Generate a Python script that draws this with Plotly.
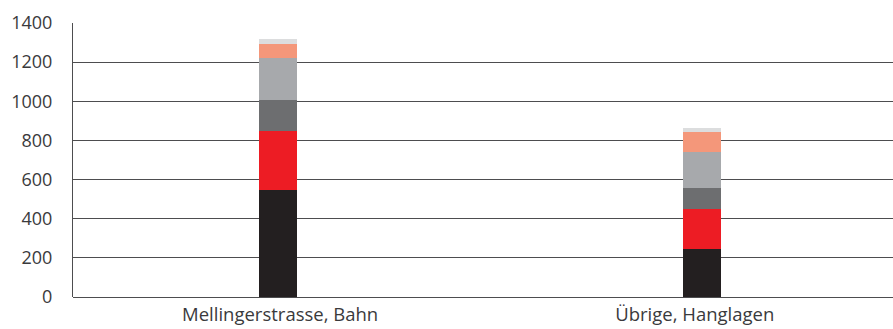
import plotly.graph_objects as go

categories = ["Mellingerstrasse, Bahn", "Übrige, Hanglagen"]
series_names = ["S1", "S2", "S3", "S4", "S5", "S6"]
s1 = [547, 245]
s2 = [301, 205]
s3 = [159, 107]
s4 = [214, 184]
s5 = [72, 102]
s6 = [25, 21]
series_values = [s1, s2, s3, s4, s5, s6]
colors = ["#231f20", "#ed1c24", "#6d6e70", "#a7a9ac", "#f4977a", "#dcddde"]
y_ticks = [0, 200, 400, 600, 800, 1000, 1200, 1400]

fig = go.Figure()
for name, vals, c in zip(series_names, series_values, colors):
    fig.add_trace(go.Bar(x=[0, 1], y=vals, name=name, marker=dict(color=c, line=dict(width=0)),
                         width=0.09, showlegend=False))

fig.update_layout(
    barmode="stack",
    width=893, height=329,
    margin=dict(l=73, r=0, t=23, b=32),
    plot_bgcolor="white", paper_bgcolor="white",
    font=dict(family="Open Sans, sans-serif", size=18.5, color="#3a3a3c"),
    xaxis=dict(tickmode="array", tickvals=[0.005, 0.983], ticktext=categories,
               range=[-0.4835, 1.4505], showgrid=False, zeroline=False,
               showline=False, ticks="", ticklabelstandoff=4, tickfont=dict(size=18.5)),
    yaxis=dict(range=[0, 1400], tickvals=y_ticks, showgrid=True, gridcolor="#4d4d4f",
               gridwidth=1, zeroline=True, zerolinecolor="#4d4d4f", zerolinewidth=1,
               showline=True, linecolor="#4d4d4f", linewidth=1, ticks="",
               ticklabelstandoff=16, tickfont=dict(size=18)),
)
fig.write_html("out.html")
